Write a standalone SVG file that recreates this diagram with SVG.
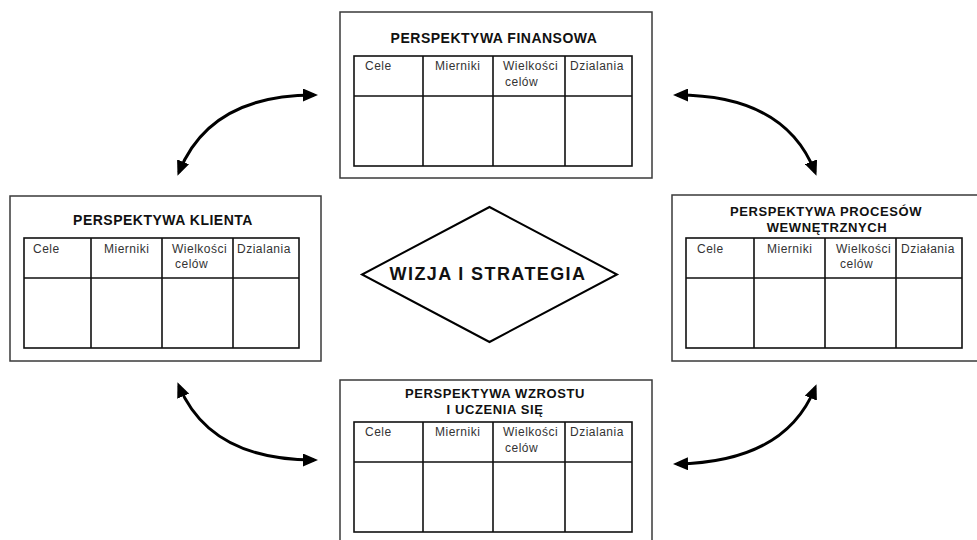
<svg xmlns="http://www.w3.org/2000/svg" width="977" height="540" viewBox="0 0 977 540">
<defs>
<style>
.frame{fill:#fff;stroke:#3a3a3a;stroke-width:1.5}
.tbl{fill:none;stroke:#111;stroke-width:1.6}
.title{font-family:"Liberation Sans",Arial,sans-serif;font-weight:bold;font-size:14px;letter-spacing:0.5px;fill:#111;text-anchor:middle}
.t2{font-size:13px;letter-spacing:0.6px}
.cell{font-family:"Liberation Sans",Arial,sans-serif;font-size:12px;letter-spacing:0.5px;fill:#333}
.core{font-family:"Liberation Sans",Arial,sans-serif;font-weight:bold;font-size:18px;letter-spacing:1.4px;fill:#111;text-anchor:middle}
.arc{fill:none;stroke:#000;stroke-width:3;marker-start:url(#ah);marker-end:url(#ah)}
</style>
<marker id="ah" markerUnits="userSpaceOnUse" markerWidth="16" markerHeight="13" refX="11" refY="6.5" orient="auto-start-reverse">
<path d="M0,0 L15,6.5 L0,13 z" fill="#000"/>
</marker>
</defs>
<rect width="977" height="540" fill="#fff"/>

<g id="connectors">
<path class="arc" d="M179,172 Q210,95 314,95"/>
<path class="arc" d="M179,386 Q210,460 314,460"/>
<path class="arc" d="M677,95 Q785,95 815,172"/>
<path class="arc" d="M677,464 Q785,462 815,388"/>
</g>

<g id="finansowa">
<rect class="frame" x="340" y="12" width="312" height="166"/>
<text class="title" x="494" y="43">PERSPEKTYWA FINANSOWA</text>
<rect class="tbl" x="354" y="56" width="278" height="110"/>
<path class="tbl" d="M354,96H632M423,56V166M493,56V166M565,56V166"/>
<text class="cell" x="365" y="70">Cele</text>
<text class="cell" x="435" y="70">Mierniki</text>
<text class="cell" x="503" y="70">Wielkości</text>
<text class="cell" x="505" y="86">celów</text>
<text class="cell" x="570" y="70">Dzialania</text>
</g>

<g id="klienta">
<rect class="frame" x="10" y="196" width="311" height="165"/>
<text class="title" x="163" y="225">PERSPEKTYWA KLIENTA</text>
<rect class="tbl" x="24" y="238" width="275" height="110"/>
<path class="tbl" d="M24,278H299M91,238V348M162,238V348M233,238V348"/>
<text class="cell" x="33" y="253">Cele</text>
<text class="cell" x="104" y="253">Mierniki</text>
<text class="cell" x="172" y="253">Wielkości</text>
<text class="cell" x="175" y="268">celów</text>
<text class="cell" x="237" y="253">Dzialania</text>
</g>

<g id="procesow">
<rect class="frame" x="672" y="195" width="320" height="166"/>
<text class="title t2" x="826" y="216">PERSPEKTYWA PROCESÓW</text>
<text class="title t2" x="827" y="232">WEWNĘTRZNYCH</text>
<rect class="tbl" x="686" y="238" width="276" height="110"/>
<path class="tbl" d="M686,278H962M754,238V348M825,238V348M896,238V348"/>
<text class="cell" x="697" y="253">Cele</text>
<text class="cell" x="767" y="253">Mierniki</text>
<text class="cell" x="836" y="253">Wielkości</text>
<text class="cell" x="840" y="268">celów</text>
<text class="cell" x="901" y="253">Działania</text>
</g>

<g id="wzrostu">
<rect class="frame" x="340" y="380" width="312" height="175"/>
<text class="title t2" x="495" y="398">PERSPEKTYWA WZROSTU</text>
<text class="title t2" x="495" y="414">I UCZENIA SIĘ</text>
<rect class="tbl" x="354" y="422" width="278" height="110"/>
<path class="tbl" d="M354,462H632M423,422V532M493,422V532M565,422V532"/>
<text class="cell" x="365" y="436">Cele</text>
<text class="cell" x="435" y="436">Mierniki</text>
<text class="cell" x="503" y="436">Wielkości</text>
<text class="cell" x="505" y="452">celów</text>
<text class="cell" x="570" y="436">Dzialania</text>
</g>

<g id="wizja">
<polygon points="489.5,207 617,274.5 489.5,342 362,274.5" fill="#fff" stroke="#000" stroke-width="2"/>
<text class="core" x="488" y="280">WIZJA I STRATEGIA</text>
</g>
</svg>
